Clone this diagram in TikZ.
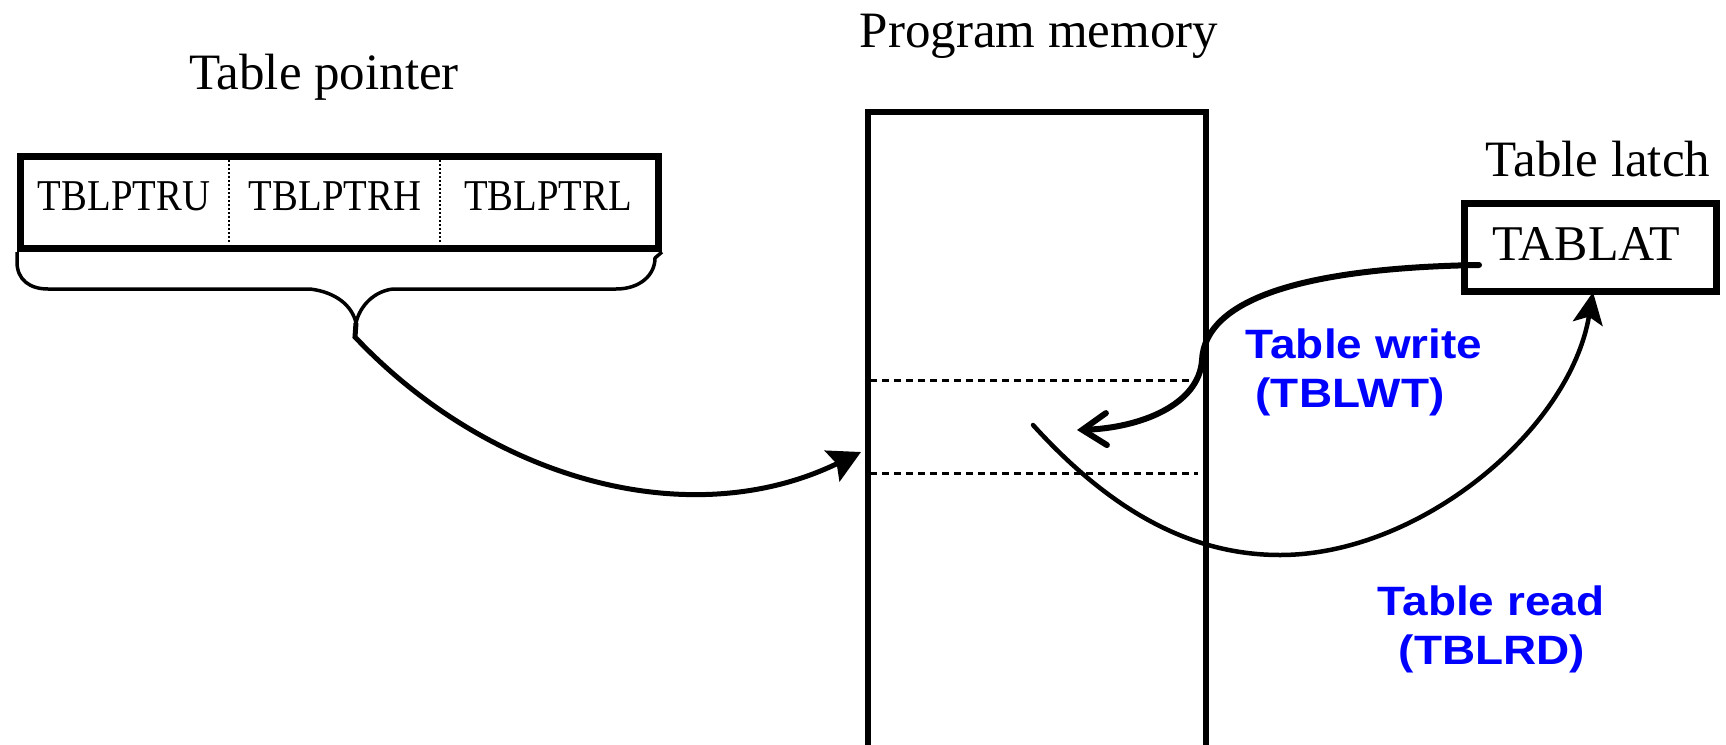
\documentclass[tikz,border=0pt]{standalone}
\usepackage{fontspec}
\setmainfont{Liberation Serif}
\newfontfamily\regfont[FakeStretch=0.88]{Liberation Serif}
\newfontfamily\lblfont[FakeStretch=1.12]{Liberation Sans}
\usetikzlibrary{arrows.meta}

\tikzset{
  caption/.style={anchor=base, inner sep=0pt, font=\fontsize{51}{60}\selectfont},
  regname/.style={anchor=base, inner sep=0pt, font=\regfont\fontsize{44}{52}\selectfont},
  latchname/.style={anchor=base, inner sep=0pt, font=\fontsize{50}{60}\selectfont},
  oplabel/.style={anchor=base, inner sep=0pt, text=opblue,
    font=\lblfont\bfseries\fontsize{41}{48}\selectfont},
  regbox/.style={draw, rectangle, inner sep=0pt, anchor=north west},
  slotline/.style={line width=3pt, dash pattern=on 7pt off 5pt},
  divider/.style={line width=1.8pt, dash pattern=on 2pt off 2pt},
  brace/.style={line width=3.5pt, line join=round},
  feed/.style={line width=5pt, -{Stealth[length=32pt, width=34pt, inset=5pt]}},
  writeop/.style={line width=6pt, line cap=round,
    -{Straight Barb[length=24pt, width=32pt, line cap=round]}},
  readop/.style={line width=4.5pt, -{Stealth[length=32pt, width=30pt, inset=7pt]}},
}
\definecolor{opblue}{RGB}{0,0,255}

\begin{document}
\begin{tikzpicture}[x=1pt, y=-1pt]
  \fill[white] (0,0) rectangle (1726,744);
  \clip (0,0) rectangle (1726,744);

  % Captions
  \node[caption] (ptrcap) at (324,89) {Table pointer};
  \node[caption] (memcap) at (1039,47) {Program memory};
  \node[caption] (latchcap) at (1598,176) {Table latch};

  % Table pointer register
  \node[regbox, line width=7pt, minimum width=638pt, minimum height=92pt] (ptr) at (17,153) {};
  \draw[divider] (229,156) -- (229,242);
  \draw[divider] (440,156) -- (440,242);
  \node[regname] (ptru) at (124,210) {TBLPTRU};
  \node[regname] (ptrh) at (335,210) {TBLPTRH};
  \node[regname] (ptrl) at (548,210) {TBLPTRL};

  % Brace under the pointer
  \coordinate (tip) at (356,323);
  \draw[brace] (ptr.south west) -- (17,262) .. controls (17,280) and (30,289) .. (48,289)
    -- (310,289) .. controls (335,292) and (352,305) .. (tip)
    .. controls (360,305) and (375,291) .. (393,289)
    -- (616,289) .. controls (640,289) and (655,275) .. (655,258) -- (ptr.south east);

  % Program memory
  \node[regbox, line width=6pt, minimum width=338pt, minimum height=660pt] (mem) at (865,109) {};
  \draw[slotline] (870,380) -- (1198,380);
  \draw[slotline] (870,473) -- (1198,473);

  % Table latch
  \node[regbox, line width=6.5pt, minimum width=252pt, minimum height=88pt] (latch) at (1461,200) {};
  \node[latchname] (tablat) at (1586,260) {TABLAT};

  % Pointer addresses the memory
  \coordinate (slotin) at (861,452);
  \coordinate (bend) at (355,337);
  \draw[feed] (tip) -- (bend) .. controls (490,480) and (690,535) .. (slotin);

  % Table write
  \coordinate (wstart) at (1479,265);
  \coordinate (wend) at (1077,430);
  \draw[writeop] (wstart) .. controls (1300,268) and (1205,300) .. (1202,360)
    .. controls (1199,405) and (1140,428) .. (wend);

  % Table read
  \coordinate (rstart) at (1033,425);
  \coordinate (rend) at (1593,292);
  \draw[readop, line cap=round] (rstart) .. controls (1110,510) and (1190,555) .. (1280,555)
    .. controls (1420,555) and (1570,430) .. (rend);

  % Operation labels
  \node[oplabel] (wlab1) at (1364,358) {Table write};
  \node[oplabel] (wlab2) at (1350,407) {(TBLWT)};
  \node[oplabel] (rlab1) at (1491,615) {Table read};
  \node[oplabel] (rlab2) at (1492,664) {(TBLRD)};
\end{tikzpicture}
\end{document}
